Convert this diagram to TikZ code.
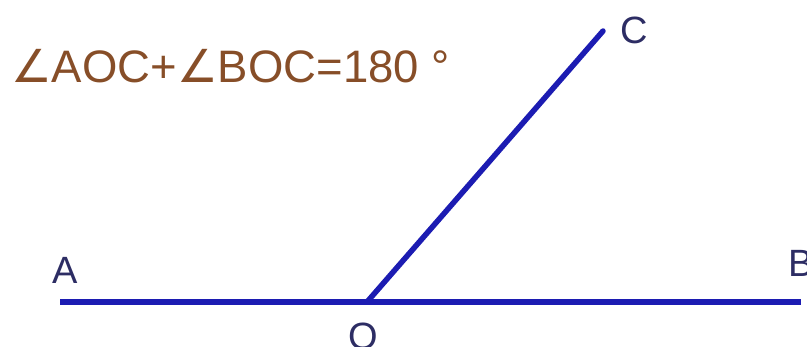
\documentclass[tikz,border=0pt]{standalone}
\usepackage{fontspec}
\setmainfont{Liberation Sans}
\newfontfamily\symfont{DejaVu Sans}
\definecolor{lineblue}{RGB}{28,28,178}
\definecolor{txtbrown}{RGB}{135,78,40}
\definecolor{lblnavy}{RGB}{45,45,100}
\tikzset{
  ray/.style={draw=lineblue, line width=5.5pt, line cap=butt},
  lbl/.style={text=lblnavy, font=\fontsize{38}{42}\selectfont, inner sep=0pt, anchor=base},
}
\begin{document}
\begin{tikzpicture}[x=1pt,y=-1pt]
\useasboundingbox (0,0) rectangle (807,346);
\coordinate (A) at (60,302);
\coordinate (B) at (801,302);
\coordinate (O) at (367,302);
\coordinate (C) at (603,31);
\draw[ray] (A) -- (B);
\draw[ray, line cap=round] (O) -- (C);
\node[lbl] (la) at (65,283) {A};
\node[lbl] (lb) at (801,276) {B};
\node[lbl] (lc) at (634,43) {C};
\node[lbl] (lo) at (363,349) {O};
\node[text=txtbrown, font=\fontsize{45.5}{50}\selectfont, inner sep=0pt, anchor=base west] (eq) at (11,82) {{\symfont ∠}AOC+{\symfont ∠}BOC=180 °};
\end{tikzpicture}
\end{document}
